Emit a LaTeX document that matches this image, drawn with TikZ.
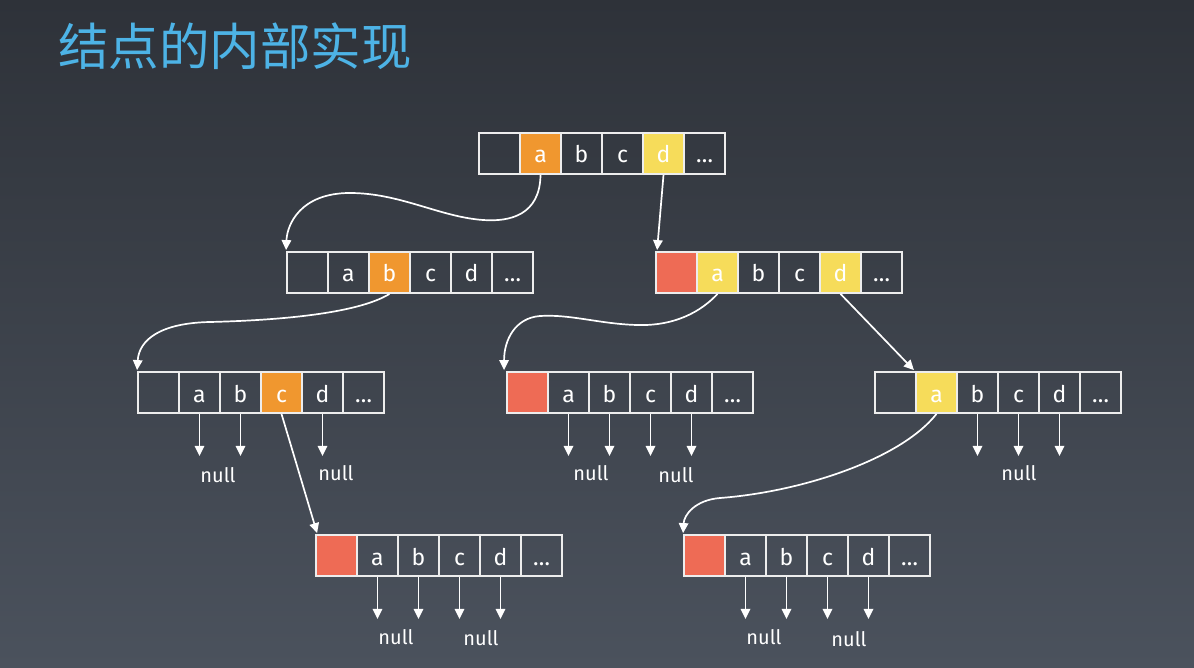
\documentclass[tikz,border=0pt]{standalone}
\usepackage{fontspec}
\setmainfont{Fira Sans}
\newfontfamily\cjk{Noto Sans CJK SC}
\usepackage{tikz}
\usetikzlibrary{positioning,arrows.meta}
\definecolor{bgtop}{HTML}{2E3239}
\definecolor{bgbot}{HTML}{4B525D}
\definecolor{titleblue}{HTML}{4DB3E6}
\definecolor{orng}{HTML}{F0972F}
\definecolor{yel}{HTML}{F6DC5A}
\definecolor{rd}{HTML}{EE6B55}
\definecolor{boxline}{HTML}{EDEDED}

\begin{document}
\begin{tikzpicture}[x=1pt,y=-1pt,
  cell/.style={draw=boxline,line width=1.8pt,minimum width=41pt,minimum height=41pt,
    inner sep=0pt,text=white,text height=19pt,text depth=0pt,font=\fontsize{23}{23}\selectfont},
  ptr/.style={draw=white,line width=1.7pt,-{Triangle[length=10pt,width=9.5pt]}},
  nul/.style={text=white,inner sep=0pt,font=\fontsize{20}{20}\selectfont}]
	\shade[top color=bgtop,bottom color=bgbot] (0,0) rectangle (1194,668);
	\useasboundingbox (0,0) rectangle (1194,668);

	%title
	\node[anchor=west,inner sep=0pt,text=titleblue,font=\cjk\fontsize{50.5}{50.5}\selectfont] (title) at (58,46) {结点的内部实现};

	%root node
	\foreach \t/\f [count=\i] in {/none,a/orng,b/none,c/none,d/yel,\ldots/none}
		\node[cell,fill=\f] (root-\i) at ({479+41*\i-20.5},153.5) {\t};

	%second level
	\foreach \t/\f [count=\i] in {/none,a/none,b/orng,c/none,d/none,\ldots/none}
		\node[cell,fill=\f] (l1-\i) at ({287+41*\i-20.5},272.5) {\t};
	\foreach \t/\f [count=\i] in {/rd,a/yel,b/none,c/none,d/yel,\ldots/none}
		\node[cell,fill=\f] (r1-\i) at ({656+41*\i-20.5},272.5) {\t};

	%third level
	\foreach \t/\f [count=\i] in {/none,a/none,b/none,c/orng,d/none,\ldots/none}
		\node[cell,fill=\f] (l2-\i) at ({138+41*\i-20.5},392.5) {\t};
	\foreach \t/\f [count=\i] in {/rd,a/none,b/none,c/none,d/none,\ldots/none}
		\node[cell,fill=\f] (m2-\i) at ({507+41*\i-20.5},392.5) {\t};
	\foreach \t/\f [count=\i] in {/none,a/yel,b/none,c/none,d/none,\ldots/none}
		\node[cell,fill=\f] (r2-\i) at ({875+41*\i-20.5},392.5) {\t};

	%fourth level
	\foreach \t/\f [count=\i] in {/rd,a/none,b/none,c/none,d/none,\ldots/none}
		\node[cell,fill=\f] (l3-\i) at ({316+41*\i-20.5},555.5) {\t};
	\foreach \t/\f [count=\i] in {/rd,a/none,b/none,c/none,d/none,\ldots/none}
		\node[cell,fill=\f] (r3-\i) at ({684+41*\i-20.5},555.5) {\t};

	%null labels
	\node[nul] (l2-n1) at (218,475) {null};
	\node[nul] (l2-n2) at (336,473) {null};
	\node[nul] (m2-n1) at (591,473) {null};
	\node[nul] (m2-n2) at (676,475) {null};
	\node[nul] (r2-n1) at (1019,473) {null};
	\node[nul] (l3-n1) at (396,637) {null};
	\node[nul] (l3-n2) at (481,638) {null};
	\node[nul] (r3-n1) at (764,637) {null};
	\node[nul] (r3-n2) at (849,639) {null};

	%null pointers
	\foreach \i in {2,3,5} {
		\coordinate (l2-e\i) at ([yshift=-42pt]l2-\i.south);
		\draw[ptr] (l2-\i.south) -- (l2-e\i);
	}
	\foreach \i in {2,3,4,5} {
		\coordinate (m2-e\i) at ([yshift=-42pt]m2-\i.south);
		\draw[ptr] (m2-\i.south) -- (m2-e\i);
		\coordinate (l3-e\i) at ([yshift=-42pt]l3-\i.south);
		\draw[ptr] (l3-\i.south) -- (l3-e\i);
		\coordinate (r3-e\i) at ([yshift=-42pt]r3-\i.south);
		\draw[ptr] (r3-\i.south) -- (r3-e\i);
	}
	\foreach \i in {3,4,5} {
		\coordinate (r2-e\i) at ([yshift=-42pt]r2-\i.south);
		\draw[ptr] (r2-\i.south) -- (r2-e\i);
	}

	%child pointers
	\draw[ptr] (root-2.south) .. controls (540,215) and (510,222) .. (483,220)
		.. controls (440,217) and (400,193) .. (350,193)
		.. controls (300,193) and (287,225) .. ([yshift=1pt]l1-1.north west);
	\draw[ptr] (root-5.south) -- ([xshift=2pt,yshift=1pt]r1-1.north west);
	\draw[ptr] (l1-3.south) .. controls (360,312) and (290,320) .. (210,322)
		.. controls (160,323) and (139,340) .. ([yshift=1pt]l2-1.north west);
	\draw[ptr] (r1-2.south) .. controls (695,318) and (665,326) .. (637,325)
		.. controls (600,324) and (570,314) .. (540,316)
		.. controls (515,318) and (504,340) .. ([xshift=-2pt,yshift=1pt]m2-1.north west);
	\draw[ptr] (r1-5.south) -- ([xshift=-3pt,yshift=1pt]r2-1.north east);
	\draw[ptr] (l2-4.south) -- ([xshift=2pt,yshift=1pt]l3-1.north west);
	\draw[ptr] (r2-2.south) .. controls (900,460) and (800,492) .. (720,498)
		.. controls (695,500) and (684,515) .. ([yshift=1pt]r3-1.north west);
\end{tikzpicture}
\end{document}
